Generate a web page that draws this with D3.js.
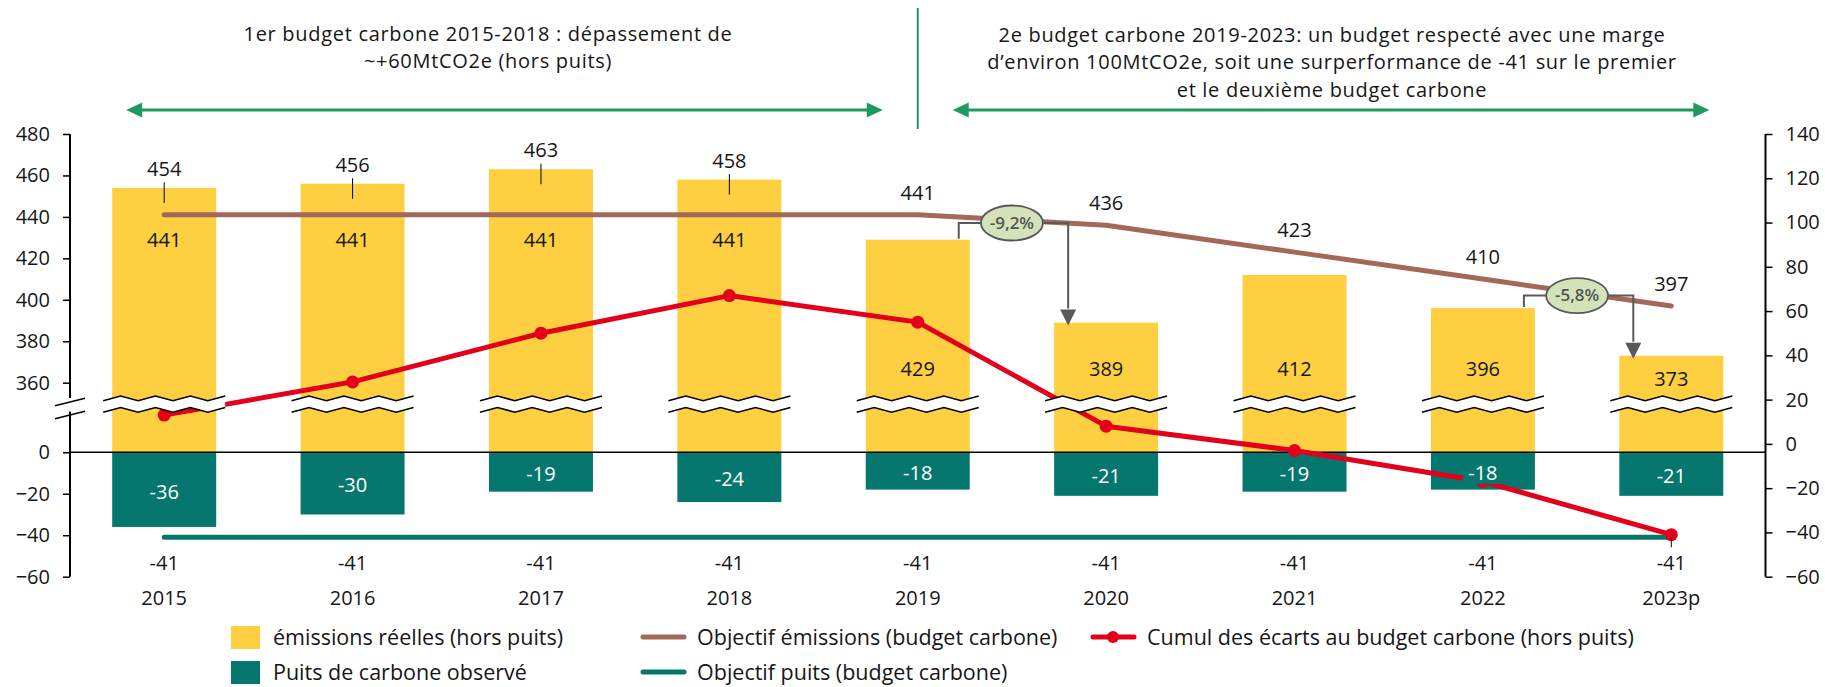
<!DOCTYPE html>
<html lang="fr">
<head>
<meta charset="utf-8">
<title>Budgets carbone</title>
<script src="https://cdn.jsdelivr.net/npm/d3@7"></script>
<style>
  body{margin:0;background:#fff;}
</style>
</head>
<body>
<div id="chart"></div>
<script>
// donnees (MtCO2e)
var years = ["2015","2016","2017","2018","2019","2020","2021","2022","2023p"]
var emissions = [454,456,463,458,429,389,412,396,373]
var objectifEmissions = [441,441,441,441,441,436,423,410,397]
var puits = [-36,-30,-19,-24,-18,-21,-19,-18,-21]
var objectifPuits = [-41,-41,-41,-41,-41,-41,-41,-41,-41]
var cumulEcarts = [13,28,50,67,55,8,-3,-17,-41]
var ticksHaut = [360,380,400,420,440,460,480]
var ticksBas = [-60,-40,-20,0]
var ticksDroite = [-60,-40,-20,0,20,40,60,80,100,120,140]
var ecarts = [{de:"2019",a:"2020",texte:"-9,2%"},{de:"2022",a:"2023p",texte:"-5,8%"}]
var titre1 = ["1er budget carbone 2015-2018 : dépassement de","~+60MtCO2e (hors puits)"]
var titre2 = ["2e budget carbone 2019-2023: un budget respecté avec une marge","d’environ 100MtCO2e, soit une surperformance de -41 sur le premier","et le deuxième budget carbone"]
var legende1 = ["émissions réelles (hors puits)","Puits de carbone observé"]
var legende2 = ["Objectif émissions (budget carbone)","Objectif puits (budget carbone)","Cumul des écarts au budget carbone (hors puits)"]

var JAUNE = "#fdcf41", VERT = "#06776e", BRUN = "#a2695b", ROUGE = "#e2001a", FLECHE = "#1f9a5e"
var FONT = "'Open Sans', sans-serif"

var data = years.map(function(y,i){
  return {year:y, em:emissions[i], obj:objectifEmissions[i], puits:puits[i], objP:objectifPuits[i], cumul:cumulEcarts[i]}
})

var W = 1825, H = 687
var svg = d3.select("#chart").append("svg").attr("width",W).attr("height",H)
  .style("font-family",FONT)

var gauche = 70, droite = 1765.5
var x = d3.scaleBand().domain(years).range([gauche,droite]).paddingInner(0.448).paddingOuter(0.224)
var yHaut = d3.scaleLinear().domain([360,480]).range([382.7,134])
var yBas = d3.scaleLinear().domain([-60,0]).range([576.7,452.3])
var yDroite = d3.scaleLinear().domain([-60,140]).range([576.7,134])
var cx = function(y){ return x(y) + x.bandwidth()/2 }
var coupeHaut = 396, coupeBas = 407.5

// barres
svg.selectAll("rect.em").data(data).enter().append("rect")
  .attr("x",function(d){ return x(d.year) })
  .attr("y",function(d){ return yHaut(d.em) })
  .attr("width",x.bandwidth())
  .attr("height",function(d){ return yBas(0) - yHaut(d.em) })
  .attr("fill",JAUNE)

svg.selectAll("rect.puits").data(data).enter().append("rect")
  .attr("x",function(d){ return x(d.year) })
  .attr("y",yBas(0))
  .attr("width",x.bandwidth())
  .attr("height",function(d){ return yBas(d.puits) - yBas(0) })
  .attr("fill",VERT)

// ligne zero
svg.append("line").attr("x1",gauche).attr("x2",droite).attr("y1",yBas(0)).attr("y2",yBas(0))
  .attr("stroke","#000").attr("stroke-width",1.5)

// lignes objectifs
var lineHaut = d3.line().x(function(d){ return cx(d.year) }).y(function(d){ return yHaut(d.obj) })
svg.append("path").datum(data).attr("d",lineHaut).attr("fill","none")
  .attr("stroke",BRUN).attr("stroke-width",5).attr("stroke-linecap","round").attr("stroke-linejoin","round")

var lineBas = d3.line().x(function(d){ return cx(d.year) }).y(function(d){ return yBas(d.objP) })
svg.append("path").datum(data).attr("d",lineBas).attr("fill","none")
  .attr("stroke",VERT).attr("stroke-width",5).attr("stroke-linecap","round")

// cumul des ecarts (axe droit)
var lineCumul = d3.line().x(function(d){ return cx(d.year) }).y(function(d){ return yDroite(d.cumul) })
svg.append("path").datum(data).attr("d",lineCumul).attr("fill","none")
  .attr("stroke",ROUGE).attr("stroke-width",5).attr("stroke-linejoin","round")
svg.selectAll("circle.cumul").data(data).enter().append("circle")
  .attr("cx",function(d){ return cx(d.year) })
  .attr("cy",function(d){ return yDroite(d.cumul) })
  .attr("r",6.5).attr("fill",ROUGE)

// coupures sur les barres
function zigzag(x0,x1,y0){
  var pts = [], n = 7
  for (var i=0;i<=n;i++){
    pts.push([x0 + (x1-x0)*i/n, y0 + (i%2==0 ? 4.7 : 0)])
  }
  return pts
}
data.forEach(function(d){
  var x0 = x(d.year) - 9, x1 = x(d.year) + x.bandwidth() + 9
  var a = zigzag(x0,x1,coupeHaut), b = zigzag(x0,x1,coupeBas)
  svg.append("polygon").attr("points",a.concat(b.slice().reverse()).join(" ")).attr("fill","#fff")
  svg.append("polyline").attr("points",a.join(" ")).attr("fill","none").attr("stroke","#000").attr("stroke-width",1.6)
  svg.append("polyline").attr("points",b.join(" ")).attr("fill","none").attr("stroke","#000").attr("stroke-width",1.6)
})

// axes
function styleAxe(g){
  g.select(".domain").remove()
  g.selectAll(".tick line").attr("stroke","#000").attr("stroke-width",1.5)
  g.selectAll(".tick text").attr("font-family",FONT).attr("font-size",20).attr("fill","#161616")
}
svg.append("g").attr("transform","translate("+gauche+",0)")
  .call(d3.axisLeft(yHaut).tickValues(ticksHaut).tickSize(7).tickPadding(13).tickSizeOuter(0)).call(styleAxe)
svg.append("g").attr("transform","translate("+gauche+",0)")
  .call(d3.axisLeft(yBas).tickValues(ticksBas).tickSize(7).tickPadding(13).tickSizeOuter(0)).call(styleAxe)
svg.append("g").attr("transform","translate("+droite+",0)")
  .call(d3.axisRight(yDroite).tickValues(ticksDroite).tickSize(7).tickPadding(13).tickSizeOuter(0)).call(styleAxe)

svg.append("line").attr("x1",gauche).attr("x2",gauche).attr("y1",yHaut(480)).attr("y2",coupeHaut+2)
  .attr("stroke","#000").attr("stroke-width",2)
svg.append("line").attr("x1",gauche).attr("x2",gauche).attr("y1",coupeBas+4).attr("y2",yBas(-60))
  .attr("stroke","#000").attr("stroke-width",2)
svg.append("line").attr("x1",droite).attr("x2",droite).attr("y1",yDroite(140)).attr("y2",yDroite(-60))
  .attr("stroke","#000").attr("stroke-width",2)
;[coupeHaut+6, coupeBas+7.5].forEach(function(yc){
  svg.append("line").attr("x1",gauche-15).attr("x2",gauche+15).attr("y1",yc+3.8).attr("y2",yc-3.8)
    .attr("stroke","#000").attr("stroke-width",1.6)
})

// etiquettes
function texte(xp,yp,t,opts){
  opts = opts || {}
  return svg.append("text").attr("x",xp).attr("y",yp).attr("dy","0.35em")
    .attr("text-anchor",opts.anchor || "middle")
    .attr("font-size",opts.size || 20)
    .attr("font-weight",opts.weight || 400)
    .attr("fill",opts.fill || "#161616")
    .text(t)
}
data.forEach(function(d){
  var c = cx(d.year)
  if (d.em > d.obj){
    texte(c, yHaut(d.em)-19, d.em)
    svg.append("line").attr("x1",c).attr("x2",c).attr("y1",yHaut(d.em)-5.5).attr("y2",yHaut(d.em)+15)
      .attr("stroke","#000").attr("stroke-width",1)
    texte(c, yHaut(d.obj)+25, d.obj)
  } else {
    texte(c, Math.max(yHaut(366.5), yHaut(d.em)+23), d.em)
    texte(c, yHaut(d.obj)-22, d.obj)
  }
  // puits
  var ym = (yBas(0)+yBas(d.puits))/2 + 2
  svg.append("rect").attr("x",c-20).attr("y",ym-11).attr("width",40).attr("height",22).attr("fill",VERT)
  texte(c, ym, d.puits, {fill:"#fff"})
  // objectif puits + annee
  texte(c, yBas(d.objP)+26, d.objP)
  texte(c, 598, d.year)
})
// petit trait sous le dernier point
var dernier = data[data.length-1]
svg.append("line").attr("x1",cx(dernier.year)).attr("x2",cx(dernier.year))
  .attr("y1",yBas(dernier.objP)).attr("y2",yBas(dernier.objP)+10).attr("stroke","#000").attr("stroke-width",1)

// ecarts en %
ecarts.forEach(function(e){
  var d0 = data[years.indexOf(e.de)], d1 = data[years.indexOf(e.a)]
  var ex = (cx(e.de)+cx(e.a))/2
  var ey = (yHaut(d0.obj)+yHaut(d1.obj))/2 + 3
  var xa = x(e.de) + x.bandwidth() - 11
  var xb = x(e.a) + 14
  svg.append("polyline").attr("points",[[xa,yHaut(d0.em)-1],[xa,ey],[ex,ey]].join(" "))
    .attr("fill","none").attr("stroke","#595959").attr("stroke-width",2)
  svg.append("polyline").attr("points",[[ex,ey],[xb,ey],[xb,yHaut(d1.em)-14]].join(" "))
    .attr("fill","none").attr("stroke","#595959").attr("stroke-width",2)
  var tip = yHaut(d1.em)+3
  svg.append("polygon").attr("points",[[xb-8,tip-16],[xb+8,tip-16],[xb,tip]].join(" ")).attr("fill","#595959")
  svg.append("ellipse").attr("cx",ex).attr("cy",ey).attr("rx",31).attr("ry",17.5)
    .attr("fill","#d4e2ba").attr("stroke","#595959").attr("stroke-width",1.8)
  texte(ex, ey, e.texte, {size:17, weight:600, fill:"#555"})
})

// titres et fleches
var sep = cx("2019")
svg.append("line").attr("x1",sep).attr("x2",sep).attr("y1",8).attr("y2",129)
  .attr("stroke",FLECHE).attr("stroke-width",2)
function fleche(x0,x1,yf){
  svg.append("line").attr("x1",x0+10).attr("x2",x1-10).attr("y1",yf).attr("y2",yf)
    .attr("stroke",FLECHE).attr("stroke-width",3)
  svg.append("polygon").attr("points",[[x0,yf],[x0+16,yf-7.5],[x0+16,yf+7.5]].join(" ")).attr("fill",FLECHE)
  svg.append("polygon").attr("points",[[x1,yf],[x1-16,yf-7.5],[x1-16,yf+7.5]].join(" ")).attr("fill",FLECHE)
}
fleche(cx("2015")-38, sep-35, 110)
fleche(sep+35, cx("2023p")+38, 110)

function bloc(lignes, xt, yt, pas){
  var t = svg.append("text").attr("text-anchor","middle").attr("font-size",20)
    .attr("letter-spacing",0.7).attr("fill","#161616")
  lignes.forEach(function(l,i){
    t.append("tspan").attr("x",xt).attr("y",yt+i*pas).text(l)
  })
}
bloc(titre1, 488, 41, 27.4)
bloc(titre2, 1332, 42, 27.4)

// legende
legende1.forEach(function(t,i){
  var yl = 637 + i*35
  svg.append("rect").attr("x",231).attr("y",yl-11).attr("width",29).attr("height",23)
    .attr("fill", i==0 ? JAUNE : VERT)
  texte(273, yl, t, {anchor:"start", size:21.5})
})
var couleurs2 = [BRUN, VERT, ROUGE]
var posLeg = [[643,637],[643,672],[1093,637]]
legende2.forEach(function(t,i){
  var p = posLeg[i]
  svg.append("line").attr("x1",p[0]).attr("x2",p[0]+41).attr("y1",p[1]).attr("y2",p[1])
    .attr("stroke",couleurs2[i]).attr("stroke-width",5).attr("stroke-linecap","round")
  if (i==2) svg.append("circle").attr("cx",p[0]+20).attr("cy",p[1]).attr("r",6).attr("fill",ROUGE)
  texte(p[0]+54, p[1], t, {anchor:"start", size:21.5})
})
</script>
</body>
</html>
